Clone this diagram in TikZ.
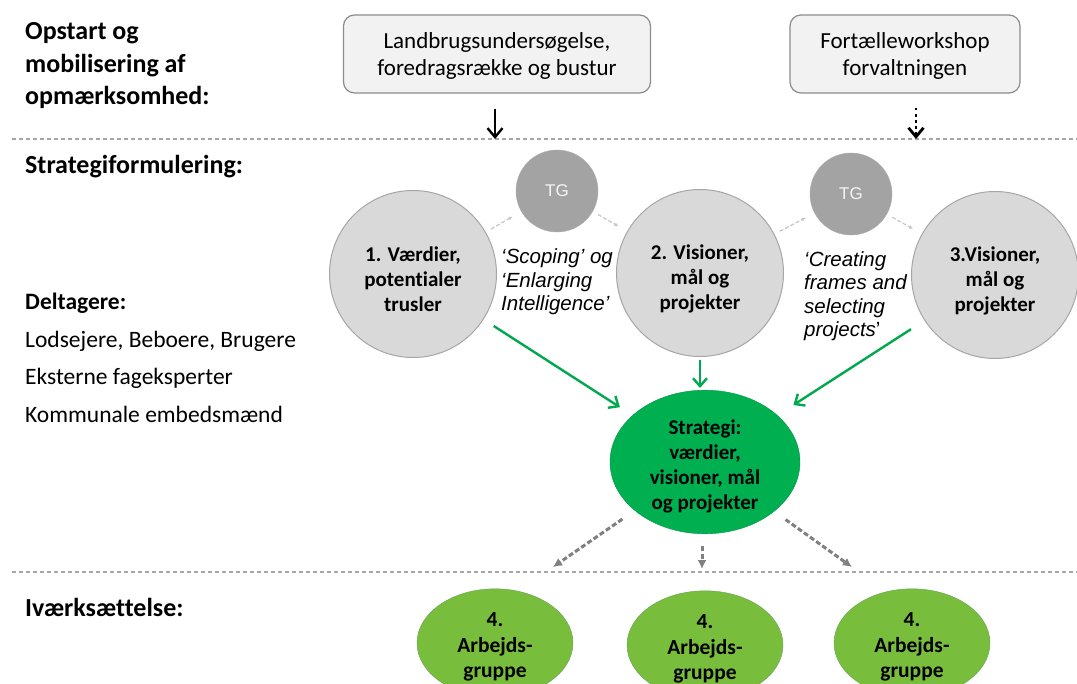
\documentclass[tikz,border=0pt]{standalone}
\usepackage{fontspec}
\setmainfont{Carlito}[Ligatures={TeX,CommonOff}]
\newfontfamily\arialfont{Liberation Sans}
\usetikzlibrary{shapes.geometric,arrows.meta,positioning}
\definecolor{boxfill}{HTML}{F2F2F2}
\definecolor{boxline}{HTML}{8C8C8C}
\definecolor{circfill}{HTML}{D9D9D9}
\definecolor{circline}{HTML}{A6A6A6}
\definecolor{tgfill}{HTML}{A3A3A3}
\definecolor{stratfill}{HTML}{00B050}
\definecolor{workfill}{HTML}{78BE3C}
\definecolor{arrowgreen}{HTML}{00A94F}
\tikzset
{
    phasebox/.style = {rectangle, rounded corners=11pt, draw=boxline, fill=boxfill, line width=1.2pt, align=center, inner sep=0pt, minimum height=78pt, font=\fontsize{23}{27}\selectfont},
    stagenode/.style = {circle, draw=circline, fill=circfill, line width=1pt, align=center, minimum size=167pt, inner sep=0pt, font=\bfseries\fontsize{21}{25}\selectfont},
    tgnode/.style = {circle, fill=tgfill, draw=tgfill!90!white, minimum size=82pt, inner sep=0pt, text=white!92!gray, font=\arialfont\fontsize{17}{17}\selectfont},
    quotenode/.style = {anchor=west, align=left, inner sep=0pt, font=\arialfont\itshape\fontsize{20.5}{23.5}\selectfont},
    stratnode/.style = {ellipse, fill=stratfill, draw=stratfill!85!black, minimum width=190pt, minimum height=136pt, inner sep=0pt, align=center, font=\bfseries\fontsize{21}{25}\selectfont},
    worknode/.style = {ellipse, fill=workfill, draw=workfill!85!blue, minimum width=156pt, minimum height=92pt, inner sep=0pt, align=center, font=\bfseries\fontsize{21.5}{25.5}\selectfont},
    sidetext/.style = {anchor=west, align=left, inner sep=0pt},
    sepdash/.style = {draw=gray!70, line width=1.5pt, dash pattern=on 4pt off 3pt},
    blackarrow/.style = {line width=2.4pt, -{Straight Barb[length=9pt,width=15pt]}},
    greenarrow/.style = {draw=arrowgreen, line width=2.4pt, -{Straight Barb[length=8pt,width=14pt]}},
    grayarrow/.style = {draw=gray, line width=3pt, dash pattern=on 5pt off 2.5pt, -{Latex[length=9pt,width=9pt]}},
    tglink/.style = {draw=gray!45, line width=1.2pt, dash pattern=on 4pt off 2pt, -{Latex[length=4pt,width=4pt]}, shorten <=6pt, shorten >=10pt}
}
\newcommand\padtop[1]{\rule{0pt}{#1}}
\newcommand\phaseline[1]{
    \draw[sepdash] (12,#1) -- (1077,#1);
}

\begin{document}
\begin{tikzpicture}[x=1pt,y=-1pt]
    \useasboundingbox (0,0) rectangle (1077,684);
    % phase labels
    \node[sidetext, font=\bfseries\fontsize{26}{32.5}\selectfont] (opstart) at (25,66) {Opstart og\\mobilisering af\\opmærksomhed:};
    \node[sidetext, font=\bfseries\fontsize{26}{32}\selectfont] (strategi) at (25,167) {Strategiformulering:};
    \node[sidetext, font=\fontsize{23.5}{37.5}\selectfont] (deltagere) at (25,358) {\textbf{Deltagere:}\\Lodsejere, Beboere, Brugere\\Eksterne fageksperter\\Kommunale embedsmænd};
    \node[sidetext, font=\bfseries\fontsize{26}{32}\selectfont] (ivaerk) at (25,607) {Iværksættelse:};
    \phaseline{139}
    \phaseline{572}
    % opstart
    \node[phasebox, minimum width=307pt] (survey) at (497,54) {\padtop{20pt}Landbrugsundersøgelse,\\foredragsrække og bustur};
    \node[phasebox, minimum width=230pt] (story) at (905,54) {\padtop{20pt}Fortælleworkshop\\forvaltningen};
    \coordinate (surveyin) at (495,139);
    \coordinate (storyin) at (916,139);
    \draw[blackarrow, shorten <=15pt] (survey.south -| surveyin) -- (surveyin);
    \draw[blackarrow, line width=2.8pt, dash pattern=on 2.8pt off 3.4pt, shorten <=14pt] (story.south -| storyin) -- (storyin);
    % strategiformulering
    \node[stagenode] (values) at (413,274) {\padtop{26pt}1. Værdier,\\potentialer\\trusler};
    \node[tgnode] (tgone) at (557,191) {TG};
    \node[stagenode] (visions) at (700,273) {\padtop{26pt}2. Visioner,\\mål og\\projekter};
    \node[tgnode] (tgtwo) at (851,194) {TG};
    \node[stagenode] (projects) at (995,275) {\padtop{26pt}3.Visioner,\\mål og\\projekter};
    \node[quotenode] (scoping) at (501,282) {‘Scoping’ og\\‘Enlarging\\Intelligence’};
    \node[quotenode] (creating) at (804,296) {‘Creating\\frames and\\selecting\\projects\/\upshape’};
    \draw[tglink] (values) -- (tgone);
    \draw[tglink] (tgone) -- (visions);
    \draw[tglink] (visions) -- (tgtwo);
    \draw[tglink] (tgtwo) -- (projects);
    \node[stratnode] (strategy) at (705,462) {\padtop{23pt}Strategi:\\værdier,\\visioner, mål\\og projekter};
    \draw[greenarrow, shorten <=12pt, shorten >=15pt] (values) -- (strategy);
    \draw[greenarrow, shorten <=3pt, shorten >=2pt] (visions.south) -- (visions.south |- strategy.north);
    \draw[greenarrow, shorten <=16pt, shorten >=19pt] (projects) -- (strategy);
    % iværksættelse
    \node[worknode] (groupa) at (495,643) {\padtop{22pt}4.\\Arbejds-\\gruppe};
    \node[worknode] (groupb) at (705,645) {\padtop{22pt}4.\\Arbejds-\\gruppe};
    \node[worknode] (groupc) at (912,643) {\padtop{22pt}4.\\Arbejds-\\gruppe};
    \coordinate (handa) at (553,567);
    \coordinate (handb) at (702,569);
    \coordinate (handc) at (852,567);
    \draw[grayarrow, shorten <=15pt] (strategy) -- (handa);
    \draw[grayarrow, shorten <=12pt] (strategy.south -| handb) -- (handb);
    \draw[grayarrow, shorten <=14pt] (strategy) -- (handc);
\end{tikzpicture}
\end{document}
